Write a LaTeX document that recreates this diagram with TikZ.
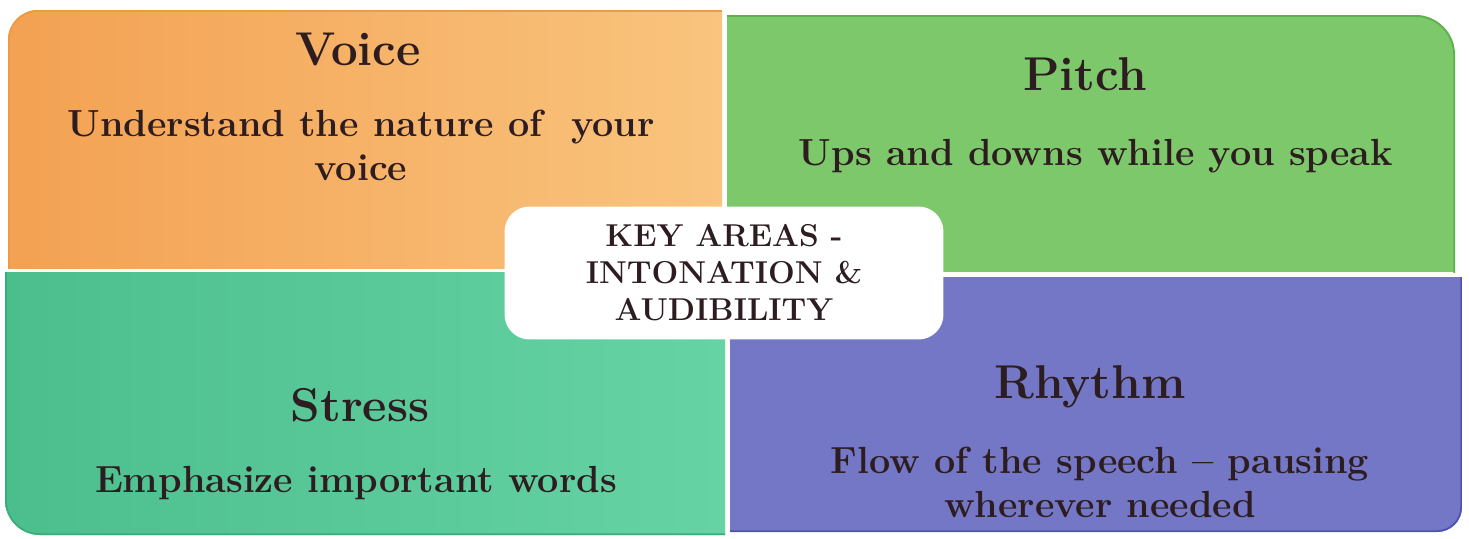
\documentclass[tikz,border=0pt]{standalone}
\usepackage{fontspec}
\definecolor{voiceL}{HTML}{F3A152}
\definecolor{voiceR}{HTML}{F9C47E}
\definecolor{voiceD}{HTML}{EE9A3E}
\definecolor{pitchC}{HTML}{7DC86A}
\definecolor{pitchD}{HTML}{5CB24A}
\definecolor{stressL}{HTML}{4CBE8E}
\definecolor{stressM}{HTML}{7DE2D0}
\definecolor{stressR}{HTML}{66D3A4}
\definecolor{stressD}{HTML}{3AAE7A}
\definecolor{rhythmC}{HTML}{7377C6}
\definecolor{rhythmD}{HTML}{4E54B4}
\definecolor{inkC}{HTML}{2E1D20}
\tikzset{
  title/.style={font=\fontsize{27}{30}\selectfont\bfseries, text=inkC, anchor=base},
  body/.style={font=\fontsize{21.5}{24.5}\selectfont\bfseries, text=inkC, align=center, anchor=base},
  keybox/.style={fill=white, rounded corners=0.5cm, minimum width=8.78cm, minimum height=2.66cm,
    font=\fontsize{18}{21}\selectfont\bfseries, text=inkC, align=center}
}
\begin{document}
\begin{tikzpicture}[x=0.02cm,y=-0.02cm]
  \fill[white] (0,0) rectangle (1469,538);
  \useasboundingbox (0,0) rectangle (1469,538);
  \begin{scope}
    \clip (8,10) rectangle (722,268);
    \clip[rounded corners=0.6cm] (8,10) rectangle (780,320);
    \shade[left color=voiceL,right color=voiceR] (8,10) rectangle (722,268);
    \draw[voiceD, line width=2pt, rounded corners=0.6cm] (8,10) rectangle (780,320);
  \end{scope}
  \begin{scope}
    \clip (727,15) rectangle (1455,272);
    \clip[rounded corners=0.8cm] (670,15) rectangle (1455,330);
    \fill[pitchC] (727,15) rectangle (1455,272);
    \draw[pitchD, line width=2pt, rounded corners=0.8cm] (670,15) rectangle (1455,330);
  \end{scope}
  \begin{scope}
    \clip (5,272) rectangle (725,535);
    \clip[rounded corners=0.7cm] (5,220) rectangle (780,535);
    \shade[left color=stressL,middle color=stressM,right color=stressR] (5,272) rectangle (725,535);
    \draw[stressD, line width=2pt, rounded corners=0.7cm] (5,220) rectangle (780,535);
  \end{scope}
  \begin{scope}
    \clip (730,277) rectangle (1462,532);
    \clip[rounded corners=0.5cm] (680,230) rectangle (1462,532);
    \fill[rhythmC] (730,277) rectangle (1462,532);
    \draw[rhythmD, line width=2pt, rounded corners=0.5cm] (680,230) rectangle (1462,532);
  \end{scope}
  \node[title] (voice) at (358,65) {Voice};
  \node[body] (voicetxt) at (361,180) {Understand the nature of~ your\\voice};
  \node[title] (pitch) at (1085,90) {Pitch};
  \node[body] (pitchtxt) at (1096,165) {Ups and downs while you speak};
  \node[title] (stress) at (360,421) {Stress};
  \node[body] (stresstxt) at (356,492) {Emphasize important words};
  \node[title] (rhythm) at (1090,398) {Rhythm};
  \node[body] (rhythmtxt) at (1100,517) {Flow of the speech -- pausing\\wherever needed};
  \node[keybox] (key) at (724,273) {KEY AREAS -\\INTONATION \&\\AUDIBILITY};
\end{tikzpicture}
\end{document}
